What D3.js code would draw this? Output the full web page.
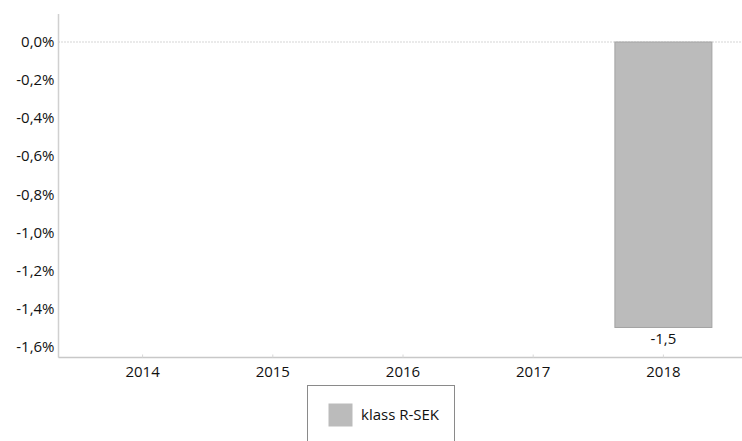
<!DOCTYPE html>
<html><head><meta charset="utf-8">
<script src="https://cdn.jsdelivr.net/npm/d3@7"></script>
<style>body{margin:0;background:#fff;}svg{display:block;font-family:"Segoe UI","Open Sans",sans-serif;}</style>
</head><body>
<script>
const categories = ["2014","2015","2016","2017","2018"];
const seriesName = "klass R-SEK";
const values = [null,null,null,null,-1.5];
const yTicks = [0,-0.2,-0.4,-0.6,-0.8,-1.0,-1.2,-1.4,-1.6];

const W=742,H=441;
const svg=d3.select("body").append("svg").attr("width",W).attr("height",H);
const x=d3.scaleBand().domain(categories).range([77.5,728.5]).paddingInner(0.255).paddingOuter(0.1275);
const y=d3.scaleLinear().domain([-1.6,0]).range([346.5,42]);
const fmt=v=>d3.format(".1f")(v).replace("−","-").replace(".",",");
const axisX0=58.5, axisY=357.5;
const fs=15;

// zero gridline
svg.append("line").attr("x1",axisX0).attr("x2",W).attr("y1",y(0)).attr("y2",y(0))
  .attr("stroke","#aaa").attr("stroke-dasharray","1,2").attr("stroke-width",1);

// y axis
svg.append("line").attr("x1",axisX0).attr("x2",axisX0).attr("y1",14).attr("y2",axisY).attr("stroke","#d0d0d0").attr("stroke-width",1.5);
svg.selectAll(".yl").data(yTicks).enter().append("text")
  .attr("x",54.5).attr("y",d=>y(d)).attr("dy","0.35em").attr("text-anchor","end")
  .attr("font-size",fs).attr("fill","#111").text(d=>fmt(d)+"%");

// bars
const data=categories.map((c,i)=>({c,v:values[i]})).filter(d=>d.v!=null);
svg.selectAll(".bar").data(data).enter().append("rect")
  .attr("x",d=>x(d.c)).attr("width",x.bandwidth())
  .attr("y",d=>y(Math.max(0,d.v))).attr("height",d=>Math.abs(y(d.v)-y(0)))
  .attr("fill","#bbbbbb").attr("stroke","#a3a3a3").attr("stroke-width",1);
svg.selectAll(".vl").data(data).enter().append("text")
  .attr("x",d=>x(d.c)+x.bandwidth()/2).attr("y",d=>y(d.v)+17)
  .attr("text-anchor","middle").attr("font-size",fs).attr("fill","#111")
  .text(d=>fmt(d.v));

// x axis
svg.append("line").attr("x1",axisX0).attr("x2",W).attr("y1",axisY).attr("y2",axisY).attr("stroke","#c8c8c8").attr("stroke-width",1.5);
svg.selectAll(".xt").data(categories).enter().append("line")
  .attr("x1",d=>x(d)+x.bandwidth()/2).attr("x2",d=>x(d)+x.bandwidth()/2)
  .attr("y1",axisY-3).attr("y2",axisY).attr("stroke","#d8d8d8");
svg.selectAll(".xl").data(categories).enter().append("text")
  .attr("x",d=>x(d)+x.bandwidth()/2).attr("y",377).attr("text-anchor","middle")
  .attr("font-size",fs).attr("fill","#111").text(d=>d);

// legend
const lg=svg.append("g");
lg.append("rect").attr("x",307.5).attr("y",385.5).attr("width",147).attr("height",70)
  .attr("fill","none").attr("stroke","#8a8a8a").attr("stroke-width",1);
lg.append("rect").attr("x",328.5).attr("y",403.5).attr("width",24).attr("height",23).attr("fill","#bbbbbb");
lg.append("text").attr("x",361).attr("y",420).attr("font-size",fs).attr("fill","#111").text(seriesName);
</script>
</body></html>
